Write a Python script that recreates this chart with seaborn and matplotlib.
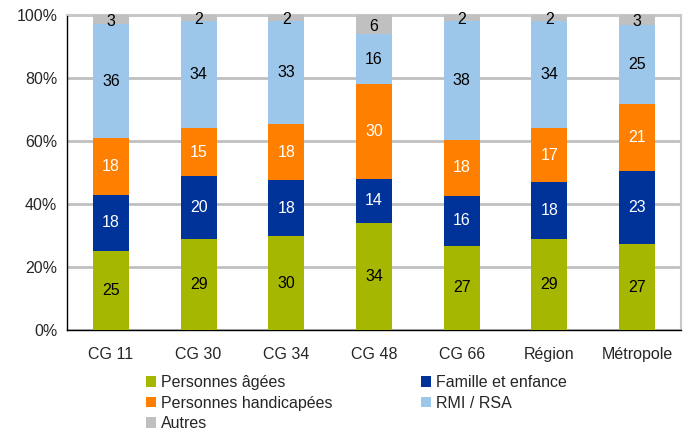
import numpy as np
import pandas as pd
import matplotlib
matplotlib.use("Agg")
import matplotlib.pyplot as plt
import seaborn as sns
from matplotlib.patches import Patch
from matplotlib.ticker import FixedLocator

# data
categories = ["CG 11", "CG 30", "CG 34", "CG 48", "CG 66", "Région", "Métropole"]
agees = [25, 29, 30, 34, 27, 29, 27]
famille = [18, 20, 18, 14, 16, 18, 23]
handicapees = [18, 15, 18, 30, 18, 17, 21]
rmi_rsa = [36, 34, 33, 16, 38, 34, 25]
autres = [3, 2, 2, 6, 2, 2, 3]

series_names = ["Personnes âgées", "Famille et enfance", "Personnes handicapées", "RMI / RSA", "Autres"]
series_vals = [agees, famille, handicapees, rmi_rsa, autres]
colors = ["#A5B700", "#003399", "#FF7F00", "#9DC7EA", "#C0C0C0"]
text_colors = ["black", "white", "white", "black", "black"]

sns.set_style("white")
plt.rcParams["font.family"] = ["Liberation Sans", "DejaVu Sans"]
FS = 11.5

vals = np.array(series_vals, dtype=float)
pct = vals / vals.sum(axis=0) * 100   # 100% stacked
cum = pct.cumsum(axis=0)

fig = plt.figure(figsize=(6.88, 4.32), dpi=100)
ax = fig.add_axes([67 / 688, 1 - 330 / 432, (681 - 67) / 688, (330 - 15) / 432])

# draw from the top of the stack down so each layer overlays the previous one
for i in range(len(series_names) - 1, -1, -1):
    df = pd.DataFrame({"cat": categories, "val": cum[i]})
    sns.barplot(data=df, x="cat", y="val", color=colors[i], width=0.41,
                saturation=1, ax=ax, zorder=3, edgecolor="none", linewidth=0)

# value labels
for i in range(len(series_names)):
    for j in range(len(categories)):
        ymid = cum[i, j] - pct[i, j] / 2
        if i == len(series_names) - 1:
            ymid = cum[i, j] - pct[i, j] / 2 - 0.5
        ax.text(j, ymid, str(series_vals[i][j]), ha="center", va="center",
                fontsize=FS, color=text_colors[i], zorder=5)

ax.set_xlim(-0.5, len(categories) - 0.5)
ax.set_ylim(0, 100)
ax.set_yticks([0, 20, 40, 60, 80, 100])
ax.set_yticklabels(["0%", "20%", "40%", "60%", "80%", "100%"], fontsize=FS)
ax.set_xticks(range(len(categories)))
ax.set_xticklabels(categories, fontsize=FS)
ax.xaxis.set_minor_locator(FixedLocator(np.arange(-0.5, len(categories), 1)))
ax.tick_params(axis="x", which="major", length=0, pad=12)
ax.tick_params(axis="x", which="minor", length=5, width=1, color="black", direction="out")
ax.tick_params(axis="y", length=4, width=1, color="black", direction="out", pad=3)
ax.set_xlabel("")
ax.set_ylabel("")

ax.grid(axis="y", color="#C0C0C0", linewidth=2, zorder=0)
ax.set_axisbelow(True)
for s in ["top", "right"]:
    ax.spines[s].set_color("#C8C8C8")
    ax.spines[s].set_linewidth(1.5)
for s in ["left", "bottom"]:
    ax.spines[s].set_color("black")
    ax.spines[s].set_linewidth(1)

# legend, filled column-wise to mimic the row layout of the original
order = [0, 2, 4, 1, 3]
handles = [Patch(facecolor=colors[k], edgecolor="none") for k in order]
labels = [series_names[k] for k in order]
fig.legend(handles, labels, loc="upper left", bbox_to_anchor=(146 / 688, 1 - 375 / 432),
           ncol=2, frameon=False, fontsize=FS, handlelength=0.65, handleheight=0.65,
           handletextpad=0.3, labelspacing=0.35, columnspacing=5.5, borderpad=0,
           borderaxespad=0)

fig.savefig("out.png", dpi=100)
